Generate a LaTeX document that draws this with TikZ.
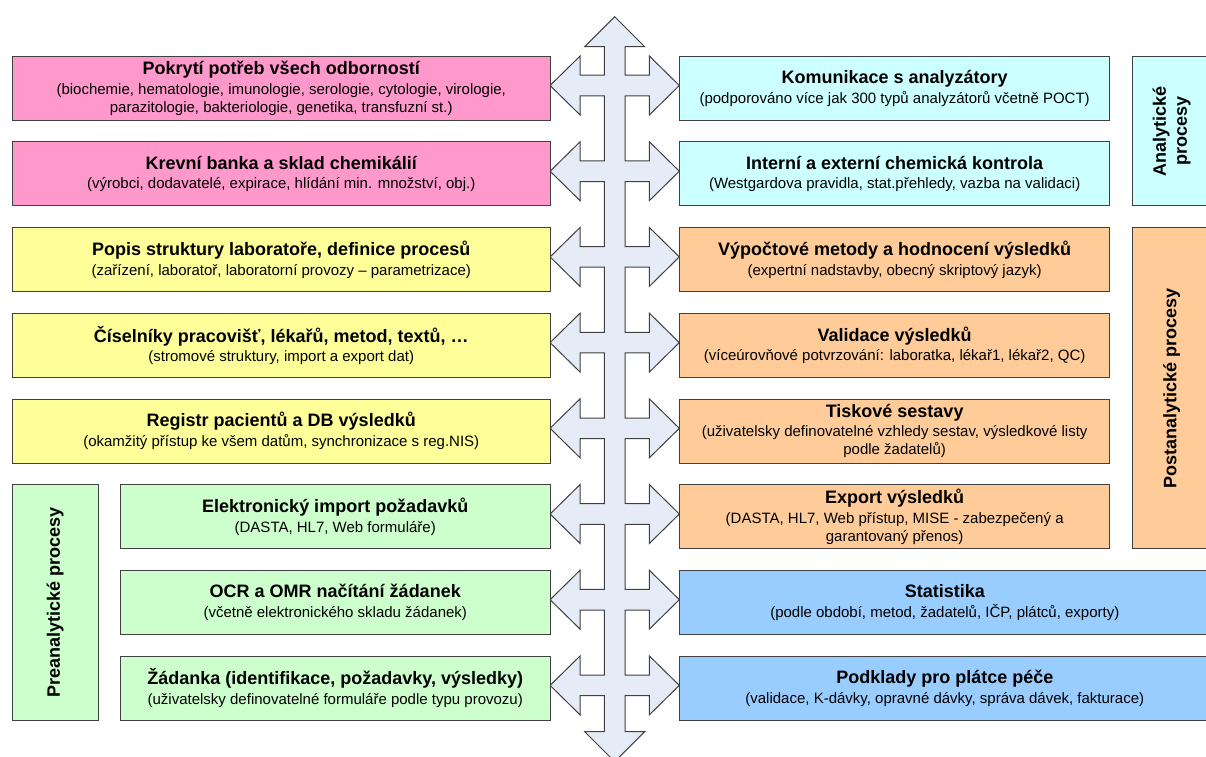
\documentclass[tikz,border=0pt]{standalone}
\usepackage{fontspec}
\setmainfont{Liberation Sans}
\usepackage{tikz}
\usetikzlibrary{calc}

\definecolor{pinkbox}{HTML}{FF99CC}
\definecolor{yellowbox}{HTML}{FFFF99}
\definecolor{greenbox}{HTML}{CCFFCC}
\definecolor{cyanbox}{HTML}{CCFFFF}
\definecolor{orangebox}{HTML}{FFCC99}
\definecolor{bluebox}{HTML}{99CCFF}
\definecolor{crossfill}{HTML}{E6ECF7}

\newcommand{\boxtext}[2]{{\fontsize{18}{20}\selectfont\bfseries #1}\\[1.5pt]#2}

\begin{document}
\begin{tikzpicture}[x=1pt, y=-1pt, line join=miter,
  box/.style={draw=black!75, line width=1pt, anchor=north west, minimum height=64pt,
    inner sep=2pt, align=center, font=\fontsize{15}{18}\selectfont},
  leftbox/.style={box, minimum width=538.5pt},
  greenrow/.style={box, fill=greenbox, minimum width=430.5pt},
  rightbox/.style={box, minimum width=429.7pt},
  longbox/.style={box, minimum width=530pt},
  sidebox/.style={draw=black!75, line width=1pt, anchor=north west, minimum width=78pt},
  sidetext/.style={rotate=90, align=center, font=\fontsize{18}{21}\selectfont\bfseries}]
  \useasboundingbox (0,0) rectangle (1206,756);
  %--- Central cross
  \def\cx{614.7}
  \draw[fill=crossfill, draw=black!75, line width=1pt]
    (\cx,16.7) -- (\cx+30,46.7) -- (\cx+10.3,46.7)
    \foreach \r [evaluate=\r as \ay using 85.5+85.7*\r] in {0,...,7}{
      -- (\cx+10.3,\ay-10.3) -- (\cx+34.6,\ay-10.3) -- (\cx+34.6,\ay-29.5) -- (\cx+64.6,\ay)
      -- (\cx+34.6,\ay+29.5) -- (\cx+34.6,\ay+10.3) -- (\cx+10.3,\ay+10.3)}
    -- (\cx+10.3,731.7) -- (\cx+30,731.7) -- (\cx,761.7) -- (\cx-30,731.7) -- (\cx-10.3,731.7)
    \foreach \r [evaluate=\r as \ay using 85.5+85.7*\r] in {7,6,...,0}{
      -- (\cx-10.3,\ay+10.3) -- (\cx-34.6,\ay+10.3) -- (\cx-34.6,\ay+29.5) -- (\cx-64.6,\ay)
      -- (\cx-34.6,\ay-29.5) -- (\cx-34.6,\ay-10.3) -- (\cx-10.3,\ay-10.3)}
    -- (\cx-10.3,46.7) -- (\cx-30,46.7) -- cycle;
  %--- Left column
  \node[leftbox, fill=pinkbox] (pokryti) at (11.5,55.7) {\boxtext{Pokrytí potřeb všech odborností}{(biochemie, hematologie, imunologie, serologie, cytologie, virologie,\\parazitologie, bakteriologie, genetika, transfuzní st.)}};
  \node[leftbox, fill=pinkbox] (krevni) at (11.5,141.4) {\boxtext{Krevní banka a sklad chemikálií}{(výrobci, dodavatelé, expirace, hlídání min. množství, obj.)}};
  \node[leftbox, fill=yellowbox] (popis) at (11.5,227.1) {\boxtext{Popis struktury laboratoře, definice procesů}{(zařízení, laboratoř, laboratorní provozy – parametrizace)}};
  \node[leftbox, fill=yellowbox] (ciselniky) at (11.5,312.8) {\boxtext{Číselníky pracovišť, lékařů, metod, textů, …}{(stromové struktury, import a export dat)}};
  \node[leftbox, fill=yellowbox] (registr) at (11.5,398.5) {\boxtext{Registr pacientů a DB výsledků}{(okamžitý přístup ke všem datům, synchronizace s reg.NIS)}};
  \node[greenrow] (import) at (119.5,484.2) {\boxtext{Elektronický import požadavků}{(DASTA, HL7, Web formuláře)}};
  \node[greenrow] (ocr) at (119.5,569.9) {\boxtext{OCR a OMR načítání žádanek}{(včetně elektronického skladu žádanek)}};
  \node[greenrow] (zadanka) at (119.5,655.6) {\boxtext{Žádanka (identifikace, požadavky, výsledky)}{(uživatelsky definovatelné formuláře podle typu provozu)}};
  %--- Right column
  \node[rightbox, fill=cyanbox] (komunikace) at (679.3,55.7) {\boxtext{Komunikace s analyzátory}{(podporováno více jak 300 typů analyzátorů včetně POCT)}};
  \node[rightbox, fill=cyanbox] (kontrola) at (679.3,141.4) {\boxtext{Interní a externí chemická kontrola}{(Westgardova pravidla, stat.přehledy, vazba na validaci)}};
  \node[rightbox, fill=orangebox] (vypocty) at (679.3,227.1) {\boxtext{Výpočtové metody a hodnocení výsledků}{(expertní nadstavby, obecný skriptový jazyk)}};
  \node[rightbox, fill=orangebox] (validace) at (679.3,312.8) {\boxtext{Validace výsledků}{(víceúrovňové potvrzování: laboratka, lékař1, lékař2, QC)}};
  \node[rightbox, fill=orangebox] (sestavy) at (679.3,398.5) {\boxtext{Tiskové sestavy}{(uživatelsky definovatelné vzhledy sestav, výsledkové listy\\podle žadatelů)}};
  \node[rightbox, fill=orangebox] (export) at (679.3,484.2) {\boxtext{Export výsledků}{(DASTA, HL7, Web přístup, MISE - zabezpečený a\\garantovaný přenos)}};
  \node[longbox, fill=bluebox] (statistika) at (679.3,569.9) {\boxtext{Statistika}{(podle období, metod, žadatelů, IČP, plátců, exporty)}};
  \node[longbox, fill=bluebox] (podklady) at (679.3,655.6) {\boxtext{Podklady pro plátce péče}{(validace, K-dávky, opravné dávky, správa dávek, fakturace)}};
  %--- Process groups
  \node[sidebox, fill=cyanbox, minimum height=149.7pt] (analyticke) at (1132,55.7) {};
  \node[sidetext] at (analyticke.center) {Analytické\\procesy};
  \node[sidebox, fill=orangebox, minimum height=320.9pt] (postanalyticke) at (1132,227.1) {};
  \node[sidetext] at (postanalyticke.center) {Postanalytické procesy};
  \node[sidebox, fill=greenbox, minimum width=86.5pt, minimum height=235.4pt] (preanalyticke) at (11.5,484.2) {};
  \node[sidetext] at (preanalyticke.center) {Preanalytické procesy};
\end{tikzpicture}
\end{document}
